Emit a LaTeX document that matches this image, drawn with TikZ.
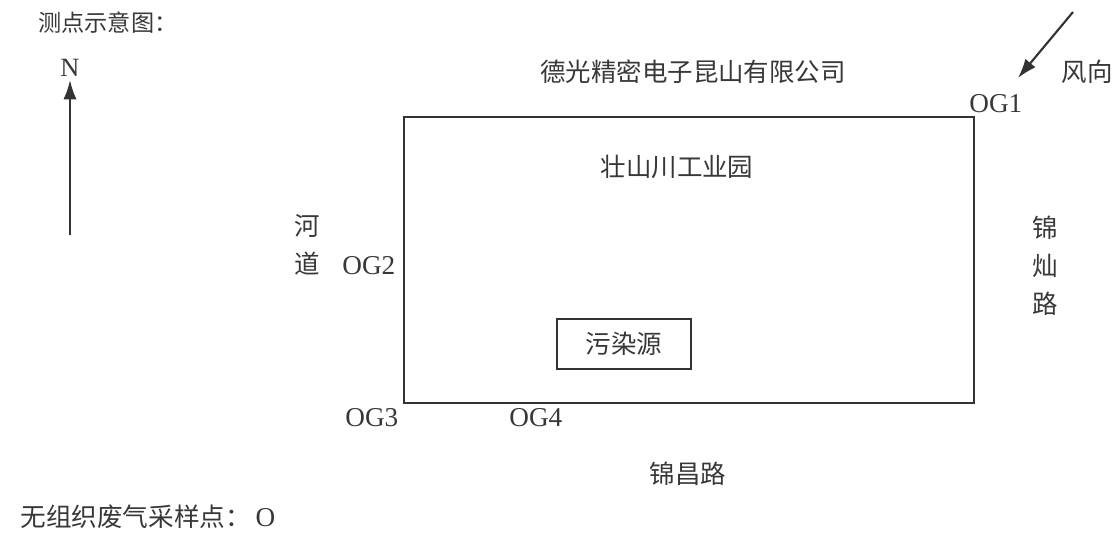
\documentclass[tikz,border=0pt]{standalone}
\usepackage{fontspec}
\setmainfont{Liberation Serif}
\newfontfamily\cjk{Noto Sans CJK SC}
\usetikzlibrary{arrows.meta}

\begin{document}
\begin{tikzpicture}[x=0.02cm,y=-0.02cm]
  \tikzstyle{t} = [text=black!78, inner sep=0pt]
  \tikzstyle{cn} = [t, font=\cjk\fontsize{14.5}{21.5}\selectfont, align=center]
  \tikzstyle{pt} = [t, anchor=west, font=\fontsize{15.5}{18}\selectfont]
  \tikzstyle{e} = [draw=black!80, line width=1.2pt]
  \tikzstyle{arr} = [e, -{Latex[length=11pt,width=7.5pt]}]
  \useasboundingbox (0,0) rectangle (1115,533);

  % titles and legend
  \node[cn, anchor=west, font=\cjk\fontsize{13.2}{15}\selectfont](title) at (38,23){测点示意图：};
  \node[cn](company) at (693,72){德光精密电子昆山有限公司};
  \node[t, anchor=west, font=\cjk\fontsize{14.6}{16}\selectfont](legend) at (20,517){无组织废气采样点：\fontspec{Liberation Serif}\fontsize{15.5}{16}\selectfont\kern2.5pt O};

  % north
  \node[t, font=\fontsize{15}{18}\selectfont](N) at (70,68){N};
  \coordinate (n0) at (70,235);
  \coordinate (n1) at (70,80);
  \draw[arr](n0)--(n1);

  % wind
  \coordinate (w0) at (1073,12);
  \coordinate (w1) at (1018,78);
  \draw[arr](w0)--(w1);
  \node[cn](wind) at (1087,72){风向};

  % park
  \coordinate (park-nw) at (404,117);
  \coordinate (park-se) at (974,403);
  \draw[e](park-nw) rectangle (park-se);
  \node[cn](parkname) at (677,167){壮山川工业园};
  \node[e, cn, minimum width=76.5pt, minimum height=28pt](src) at (624,344){污染源};

  % roads and river
  \node[cn](river) at (307,245){河\\道};
  \node[cn](road1) at (1045,266){锦\\灿\\路};
  \node[cn](road2) at (688,474){锦昌路};

  % sampling points
  \node[pt](g1) at (969,104){OG1};
  \node[pt](g2) at (342,266){OG2};
  \node[pt](g3) at (345,418){OG3};
  \node[pt](g4) at (509,418){OG4};

\end{tikzpicture}
\end{document}
